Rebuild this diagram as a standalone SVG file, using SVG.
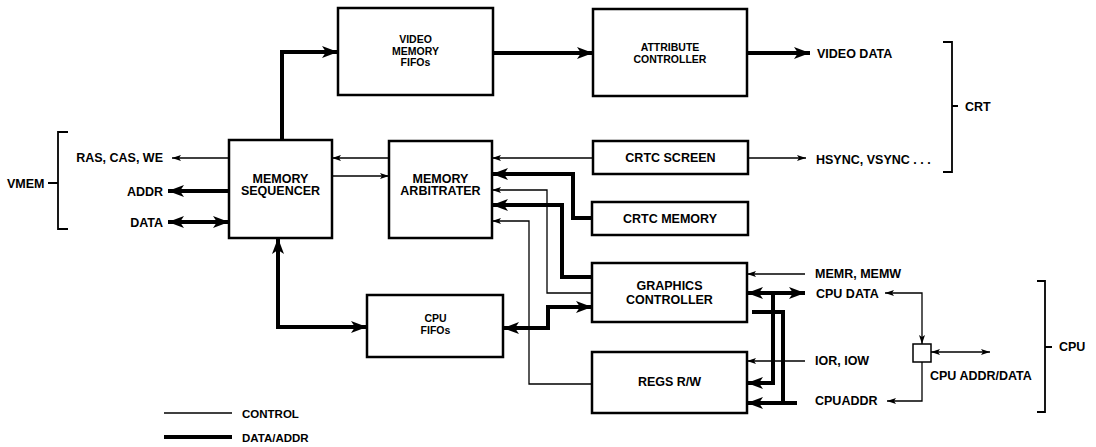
<svg xmlns="http://www.w3.org/2000/svg" width="1096" height="447" viewBox="0 0 1096 447">
<style>
.box{fill:#fff;stroke:#000;stroke-width:2.5}
text{font-family:"Liberation Sans",Arial,sans-serif;font-weight:bold;fill:#000;font-size:12.5px}
.c{text-anchor:middle}
.e{text-anchor:end}
.s{font-size:10.5px}
.thin{fill:none;stroke:#000;stroke-width:1.3}
.thick{fill:none;stroke:#000;stroke-width:4}
.br{fill:none;stroke:#000;stroke-width:1.8}
.ta{marker-end:url(#ta)}
.tb{marker-start:url(#ta);marker-end:url(#ta)}
.ka{marker-end:url(#ka)}
.kb{marker-start:url(#ka);marker-end:url(#ka)}
</style>
<defs>
<marker id="ta" markerUnits="userSpaceOnUse" viewBox="0 0 9 6" refX="9" refY="3" markerWidth="9" markerHeight="6" orient="auto-start-reverse"><path d="M0,0 L9,3 L0,6 L2,3 z" fill="#000"/></marker>
<marker id="ka" markerUnits="userSpaceOnUse" viewBox="0 0 16 12" refX="16" refY="6" markerWidth="16" markerHeight="12" orient="auto-start-reverse"><path d="M0,0 L16,6 L0,12 L4,6 z" fill="#000"/></marker>
</defs>

<g id="connectors">
<path class="thick ka" d="M282,140 V52 H338"/>
<path class="thick ka" d="M493,53 H593"/>
<path class="thick ka" d="M747,53 H810"/>
<path class="thin ta" d="M748,158 H806"/>
<path class="thin ta" d="M593,158 H492"/>
<path class="thick ka" d="M592,218 H573 V174 H492"/>
<path class="thin ta" d="M592,293 H547 V190 H492"/>
<path class="thick ka" d="M592,277 H562 V205 H492"/>
<path class="thin ta" d="M592,384 H529 V221 H492"/>
<path class="thick kb" d="M503,328 H548 V307 H592"/>
<path class="thick kb" d="M278,238 V327 H367"/>
<path class="thin ta" d="M389,158 H332"/>
<path class="thin ta" d="M332,176 H389"/>
<path class="thin ta" d="M229,158 H172"/>
<path class="thick ka" d="M229,191 H168"/>
<path class="thick kb" d="M168,222 H229"/>
<path class="thin ta" d="M805,274 H747"/>
<path class="thick kb" d="M747,293 H805"/>
<path class="thick ka" d="M773,293 V383 H747"/>
<path class="thick" d="M752,312 H783 V403"/>
<path class="thick ka" d="M797,403 H747"/>
<path class="thin ta" d="M805,361 H747"/>
<path class="thin tb" d="M885,293 H922 V344"/>
<path class="thin ta" d="M922,362 V401 H887"/>
<path class="thin tb" d="M931,352 H990"/>
</g>

<g id="vmem-bracket">
<path class="br" d="M68,132 H58 V229 H68 M48,183 H58"/>
<text x="7" y="188">VMEM</text>
</g>
<g id="crt-bracket">
<path class="br" d="M943,42 H952 V172 H943 M952,106 H958"/>
<text x="965" y="111">CRT</text>
</g>
<g id="cpu-bracket">
<path class="br" d="M1037,281 H1045 V412 H1037 M1045,347 H1052"/>
<text x="1059" y="351">CPU</text>
</g>

<g id="video-memory-fifos">
<rect class="box" x="338" y="8" width="155" height="87"/>
<text class="c s" x="415.5" y="43">VIDEO</text>
<text class="c s" x="415.5" y="55">MEMORY</text>
<text class="c s" x="415.5" y="66">FIFOs</text>
</g>
<g id="attribute-controller">
<rect class="box" x="593" y="9" width="154" height="87"/>
<text class="c" style="font-size:10.5px" x="670" y="51">ATTRIBUTE</text>
<text class="c" style="font-size:10.5px" x="670" y="63">CONTROLLER</text>
</g>
<g id="memory-sequencer">
<rect class="box" x="229" y="140" width="103" height="98"/>
<text class="c" x="280.5" y="183">MEMORY</text>
<text class="c" x="280.5" y="195">SEQUENCER</text>
</g>
<g id="memory-arbitrater">
<rect class="box" x="389" y="141" width="103" height="97"/>
<text class="c" x="440.5" y="183">MEMORY</text>
<text class="c" x="440.5" y="195">ARBITRATER</text>
</g>
<g id="crtc-screen">
<rect class="box" x="593" y="141" width="155" height="33"/>
<text class="c" x="670.5" y="162">CRTC SCREEN</text>
</g>
<g id="crtc-memory">
<rect class="box" x="592" y="202" width="156" height="33"/>
<text class="c" x="670" y="223">CRTC MEMORY</text>
</g>
<g id="graphics-controller">
<rect class="box" x="592" y="263" width="155" height="59"/>
<text class="c" x="669.5" y="290">GRAPHICS</text>
<text class="c" x="669.5" y="304">CONTROLLER</text>
</g>
<g id="regs-rw">
<rect class="box" x="592" y="352" width="155" height="61"/>
<text class="c" x="669.5" y="386">REGS R/W</text>
</g>
<g id="cpu-fifos">
<rect class="box" x="367" y="295" width="136" height="62"/>
<text class="c s" x="435.5" y="322">CPU</text>
<text class="c s" x="435.5" y="334">FIFOs</text>
</g>
<g id="latch">
<rect class="box" style="stroke-width:1.5" x="913" y="344" width="18" height="18"/>
</g>

<g id="labels">
<text class="e" x="163" y="162">RAS, CAS, WE</text>
<text class="e" x="163" y="196">ADDR</text>
<text class="e" x="163" y="227">DATA</text>
<text x="817" y="58">VIDEO DATA</text>
<text x="816" y="164">HSYNC, VSYNC . . .</text>
<text x="815" y="278">MEMR, MEMW</text>
<text x="816" y="298">CPU DATA</text>
<text x="815" y="365">IOR, IOW</text>
<text x="815" y="405">CPUADDR</text>
<text x="930" y="380">CPU ADDR/DATA</text>
</g>

<g id="legend">
<path class="thin" d="M164,413 H232"/>
<path class="thick" d="M164,437 H232"/>
<text x="242" y="418" style="font-size:11.5px">CONTROL</text>
<text x="242" y="442" style="font-size:11.5px">DATA/ADDR</text>
</g>
</svg>
